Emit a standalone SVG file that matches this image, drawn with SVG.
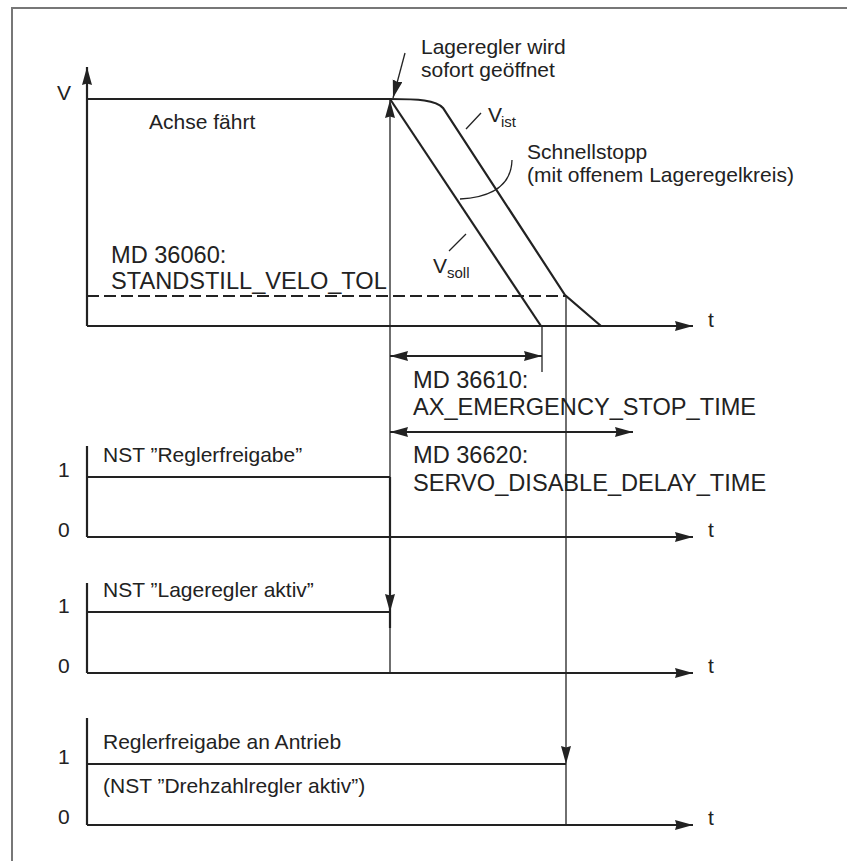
<svg xmlns="http://www.w3.org/2000/svg" width="847" height="861" viewBox="0 0 847 861">
<style>
  text { font-family: "Liberation Sans", Arial, sans-serif; font-size: 21px; fill: #222; }
  .caps { font-size: 23.6px; }
  .sub { font-size: 15px; }
  .ax { stroke: #222; stroke-width: 2.2; fill: none; }
  .thin { stroke: #222; stroke-width: 1.3; fill: none; }
  .thick { stroke: #222; stroke-width: 2.2; fill: none; }
  .frame { stroke: #777; stroke-width: 2; fill: none; }
</style>
<defs>
  <marker id="arr" markerUnits="userSpaceOnUse" markerWidth="20" markerHeight="12" refX="18" refY="5" orient="auto-start-reverse">
    <path d="M0,0 L18,5 L0,10 L1.5,5 z" fill="#222"/>
  </marker>
</defs>

<g id="frame">
  <path class="frame" d="M12,861 L12,8 L847,8"/>
</g>

<g id="chart-velocity">
  <path class="ax" d="M87,326 L87,67" marker-end="url(#arr)"/>
  <path class="ax" d="M87,326 L693,326" marker-end="url(#arr)"/>
  <text x="57" y="100">V</text>
  <text x="708" y="327">t</text>
  <path class="ax" d="M87,99 L390,99"/>
  <path class="ax" d="M390,99 C418,99 436,100 443,108 L565,295 L601,326"/>
  <path class="ax" d="M390,99 L541,326"/>
  <text x="149" y="129">Achse fährt</text>
  <path class="ax" stroke-dasharray="12,5" d="M87,296 L566,296"/>
  <text class="caps" x="111" y="263">MD 36060:</text>
  <text class="caps" x="111" y="289">STANDSTILL_VELO_TOL</text>
</g>

<g id="label-lageregler">
  <text x="421" y="54">Lageregler wird</text>
  <text x="421" y="77">sofort geöffnet</text>
  <path class="thin" d="M405,53 L393,98" marker-end="url(#arr)"/>
</g>

<g id="label-vist">
  <path class="thin" d="M466,129 L481,113"/>
  <text x="488" y="122">V</text>
  <text class="sub" x="501" y="127">ist</text>
</g>

<g id="label-vsoll">
  <path class="thin" d="M449,251 L466,234"/>
  <text x="433" y="273">V</text>
  <text class="sub" x="447" y="278">soll</text>
</g>

<g id="label-schnellstopp">
  <text x="527" y="159">Schnellstopp</text>
  <text x="527" y="182">(mit offenem Lageregelkreis)</text>
  <path class="thin" d="M512,160 Q511,196 460,199"/>
</g>

<g id="dim-36610">
  <path class="thin" d="M542,326 L542,372"/>
  <path class="ax" d="M390,356 L542,356" marker-start="url(#arr)" marker-end="url(#arr)"/>
  <text class="caps" x="413" y="388">MD 36610:</text>
  <text class="caps" x="413" y="415">AX_EMERGENCY_STOP_TIME</text>
</g>

<g id="dim-36620">
  <path class="ax" d="M390,432 L633,432" marker-start="url(#arr)" marker-end="url(#arr)"/>
  <text class="caps" x="413" y="463">MD 36620:</text>
  <text class="caps" x="413" y="491">SERVO_DISABLE_DELAY_TIME</text>
</g>

<g id="chart-reglerfreigabe">
  <path class="ax" d="M87,446 L87,537"/>
  <path class="ax" d="M87,537 L693,537" marker-end="url(#arr)"/>
  <path class="ax" d="M87,477 L390,477"/>
  <text x="103" y="462">NST ”Reglerfreigabe”</text>
  <text x="58" y="477">1</text>
  <text x="58" y="537">0</text>
  <text x="708" y="537">t</text>
</g>

<g id="chart-lageregler-aktiv">
  <path class="ax" d="M87,583 L87,673"/>
  <path class="ax" d="M87,673 L693,673" marker-end="url(#arr)"/>
  <path class="ax" d="M87,612 L390,612"/>
  <text x="103" y="597">NST ”Lageregler aktiv”</text>
  <text x="58" y="613">1</text>
  <text x="58" y="673">0</text>
  <text x="708" y="673">t</text>
</g>

<g id="chart-antrieb">
  <path class="ax" d="M87,718 L87,825"/>
  <path class="ax" d="M87,825 L693,825" marker-end="url(#arr)"/>
  <path class="ax" d="M87,764 L566,764"/>
  <text x="103" y="749">Reglerfreigabe an Antrieb</text>
  <text x="103" y="793">(NST ”Drehzahlregler aktiv”)</text>
  <text x="58" y="764">1</text>
  <text x="58" y="824">0</text>
  <text x="708" y="825">t</text>
</g>

<g id="connectors">
  <path class="thin" d="M390,477 L390,100" marker-end="url(#arr)"/>
  <path class="thick" d="M390,477 L390,612" marker-end="url(#arr)"/>
  <path class="thick" d="M390,612 L390,628"/>
  <path class="thin" d="M390,628 L390,673"/>
  <path class="thin" d="M566,296 L566,764" marker-end="url(#arr)"/>
  <path class="thin" d="M566,764 L566,825"/>
</g>
</svg>
